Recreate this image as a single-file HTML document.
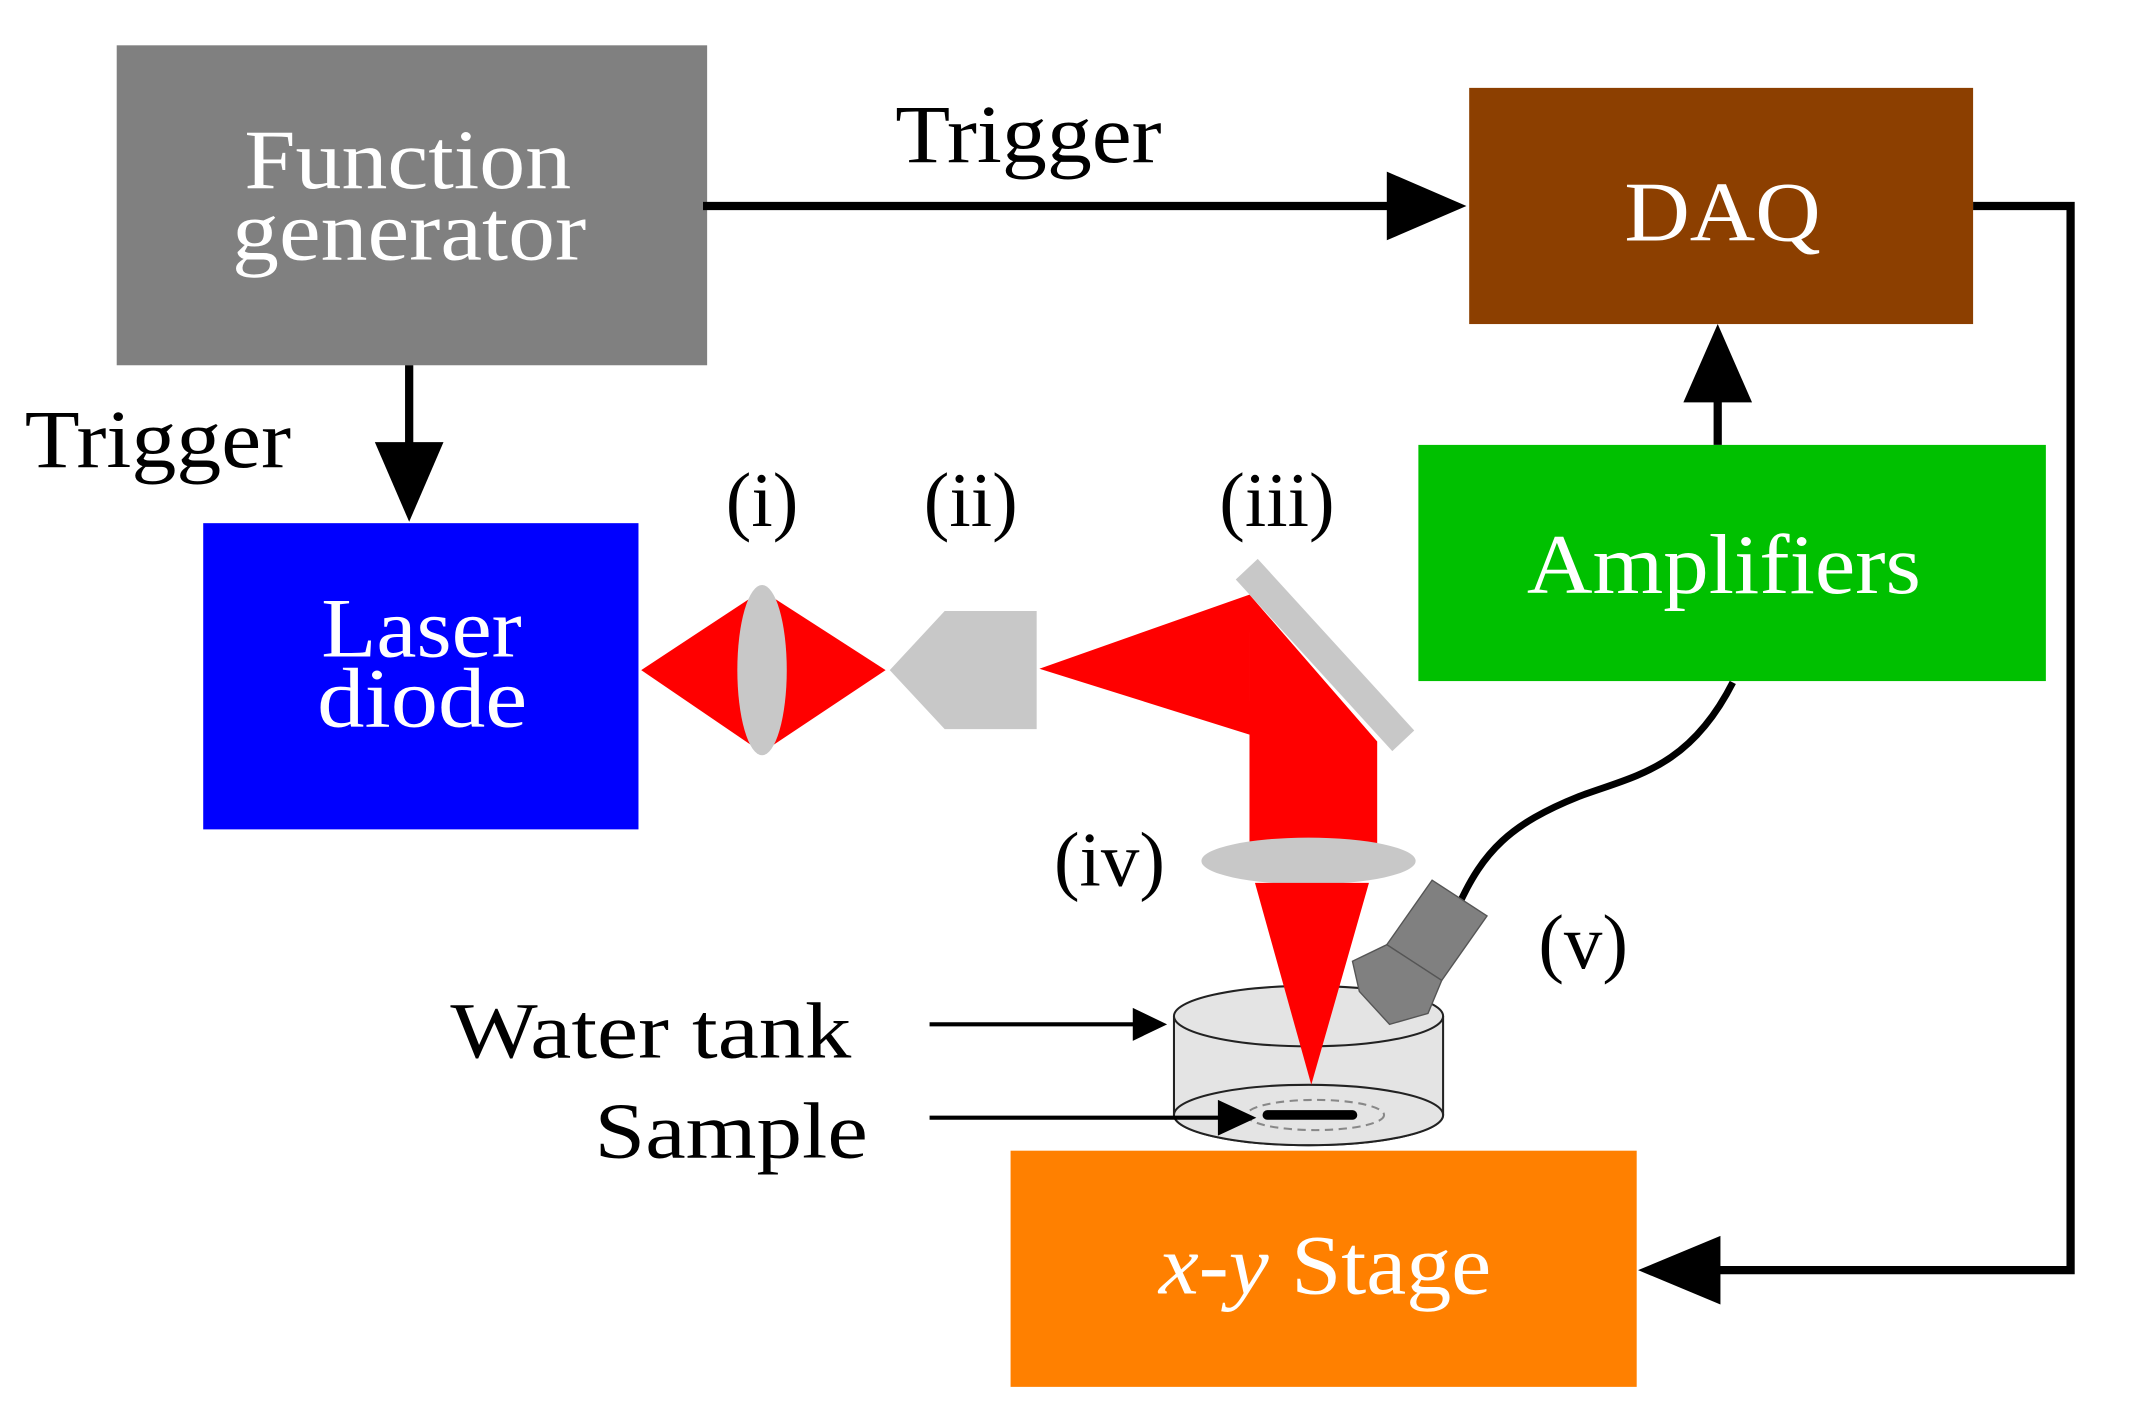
<!DOCTYPE html>
<html><head><meta charset="utf-8"><style>
html,body{margin:0;padding:0;background:#fff}
svg{display:block}
text{font-family:"Liberation Serif","DejaVu Serif",serif}
</style></head><body>
<svg width="2131" height="1405" viewBox="0 0 1552 1023.2" preserveAspectRatio="none" xmlns="http://www.w3.org/2000/svg">
<!-- Function generator -->
<rect x="85" y="33" width="430" height="233" fill="#808080"/>
<text x="178" y="137" font-size="62" fill="#fff" textLength="238" lengthAdjust="spacingAndGlyphs">Function</text>
<text x="169" y="189" font-size="62" fill="#fff" textLength="258" lengthAdjust="spacingAndGlyphs">generator</text>
<!-- Trigger top -->
<text x="652" y="118" font-size="60" fill="#000" textLength="194" lengthAdjust="spacingAndGlyphs">Trigger</text>
<line x1="512" y1="150" x2="1015" y2="150" stroke="#000" stroke-width="6"/>
<polygon points="1010,125 1068,150 1010,175" fill="#000"/>
<!-- DAQ -->
<rect x="1070" y="64" width="367" height="172" fill="#8c3f00"/>
<text x="1183" y="175" font-size="62" fill="#fff" textLength="143" lengthAdjust="spacingAndGlyphs">DAQ</text>
<polyline points="1437,150 1508,150 1508,925 1245,925" fill="none" stroke="#000" stroke-width="6"/>
<polygon points="1253,900 1193,925 1253,950" fill="#000"/>
<!-- FG down arrow -->
<line x1="298" y1="266" x2="298" y2="326" stroke="#000" stroke-width="6"/>
<polygon points="273,322 323,322 298,380" fill="#000"/>
<text x="18" y="340" font-size="60" fill="#000" textLength="194" lengthAdjust="spacingAndGlyphs">Trigger</text>
<!-- Laser diode -->
<rect x="148" y="381" width="317" height="223" fill="#0000ff"/>
<text x="234" y="478" font-size="62" fill="#fff" textLength="146" lengthAdjust="spacingAndGlyphs">Laser</text>
<text x="231" y="529" font-size="62" fill="#fff" textLength="153" lengthAdjust="spacingAndGlyphs">diode</text>
<!-- labels -->
<text x="555" y="383" font-size="56" fill="#000" text-anchor="middle">(i)</text>
<text x="707" y="383" font-size="56" fill="#000" text-anchor="middle">(ii)</text>
<text x="930" y="383" font-size="56" fill="#000" text-anchor="middle">(iii)</text>
<text x="808" y="645" font-size="56" fill="#000" text-anchor="middle">(iv)</text>
<text x="1153" y="705" font-size="56" fill="#000" text-anchor="middle">(v)</text>
<!-- optics -->
<polygon points="467,488 555,430 645,488 555,548" fill="#ff0000"/>
<ellipse cx="555" cy="488" rx="18" ry="62" fill="#c8c8c8"/>
<polygon points="648,488 688,445 755,445 755,531 688,531" fill="#c8c8c8"/>
<polygon points="757,487 910,433 910,535" fill="#ff0000"/>
<polygon points="910,433 1003,540 1003,615 910,615" fill="#ff0000"/>
<polygon points="900,422 916,407 1030,532 1014,547" fill="#c8c8c8"/>
<ellipse cx="953" cy="627" rx="78" ry="17" fill="#c8c8c8"/>
<!-- Amplifiers -->
<rect x="1033" y="324" width="457" height="172" fill="#00c000"/>
<text x="1112" y="432" font-size="62" fill="#fff" textLength="287" lengthAdjust="spacingAndGlyphs">Amplifiers</text>
<line x1="1251" y1="324" x2="1251" y2="285" stroke="#000" stroke-width="6"/>
<polygon points="1226,293 1276,293 1251,236" fill="#000"/>
<!-- cable -->
<path d="M1262,497 C1230,560 1190,565 1150,580 C1100,600 1080,620 1062,660" fill="none" stroke="#000" stroke-width="5"/>
<!-- tank -->
<path d="M855,740 L855,812 A98,22 0 0 0 1051,812 L1051,740" fill="#e4e4e4" stroke="#222" stroke-width="1.5"/>
<ellipse cx="953" cy="812" rx="98" ry="22" fill="#e4e4e4" stroke="#222" stroke-width="1.5"/>
<ellipse cx="953" cy="740" rx="98" ry="22" fill="#e4e4e4" stroke="#222" stroke-width="1.5"/>
<polygon points="914,643 997,643 955,790" fill="#ff0000"/>
<ellipse cx="958" cy="812" rx="50" ry="11" fill="none" stroke="#888" stroke-width="1.5" stroke-dasharray="6,4"/>
<line x1="923" y1="812" x2="985" y2="812" stroke="#000" stroke-width="7" stroke-linecap="round"/>
<!-- transducer -->
<polygon points="1043,641 1083,667 1050,714 1010,688" fill="#808080" stroke="#555" stroke-width="1"/>
<polygon points="985,700 1010,688 1050,714 1040,738 1012,746 990,722" fill="#808080" stroke="#555" stroke-width="1"/>
<!-- tank labels -->
<text x="328" y="770" font-size="58" fill="#000" textLength="292" lengthAdjust="spacingAndGlyphs">Water tank</text>
<line x1="677" y1="746" x2="830" y2="746" stroke="#000" stroke-width="3"/>
<polygon points="825,734 850,746 825,758" fill="#000"/>
<text x="433" y="843" font-size="58" fill="#000" textLength="199" lengthAdjust="spacingAndGlyphs">Sample</text>
<line x1="677" y1="814" x2="895" y2="814" stroke="#000" stroke-width="3"/>
<polygon points="887,801 915,814 887,827" fill="#000"/>
<!-- stage -->
<rect x="736" y="838" width="456" height="172" fill="#ff8000"/>
<text x="844" y="942" font-size="62" fill="#fff" textLength="242" lengthAdjust="spacingAndGlyphs"><tspan font-style="italic">x</tspan>-<tspan font-style="italic">y</tspan> Stage</text>
</svg>
</body></html>
